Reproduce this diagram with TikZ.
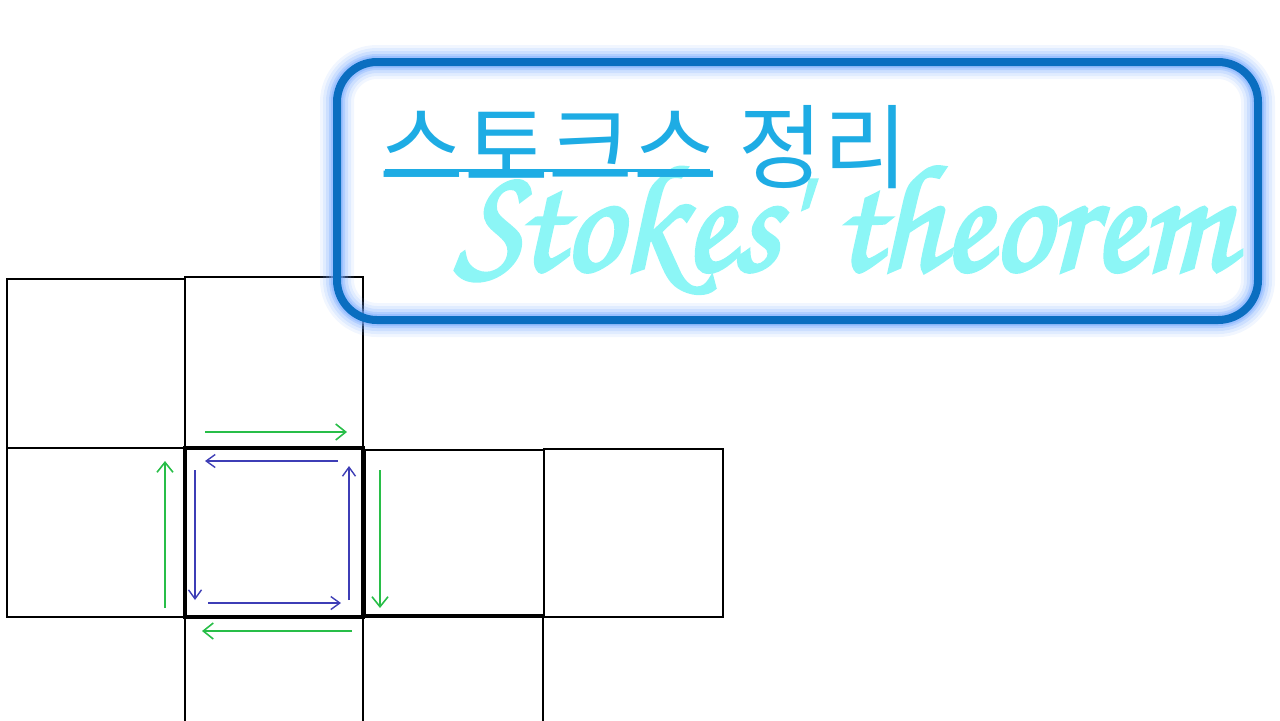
\documentclass[tikz,border=0pt]{standalone}
\usepackage{fontspec}
\newfontfamily\hangulfont{Noto Sans CJK KR}
\newfontfamily\chorusfont{TeX Gyre Chorus}[FakeBold=2.5]
\usetikzlibrary{arrows.meta}

\definecolor{boxblue}{RGB}{10,110,192}
\definecolor{glowblue}{RGB}{120,170,255}
\definecolor{titleblue}{RGB}{30,172,228}
\definecolor{scriptcyan}{RGB}{140,246,246}
\definecolor{arrowgreen}{RGB}{40,190,72}
\definecolor{arrowblue}{RGB}{62,62,182}

\tikzset{
  cell/.style={line width=0.75pt},
  midcell/.style={line width=1.7pt},
  outflow/.style={arrowgreen,line width=0.8pt,-{Straight Barb[length=5pt,width=8pt]}},
  inflow/.style={arrowblue,line width=0.7pt,-{Straight Barb[length=4.5pt,width=6.5pt]}}
}

\begin{document}
\begin{tikzpicture}[x=0.5pt,y=-0.5pt]
  \useasboundingbox (0,0) rectangle (1280,720);

  %%%%%%%%%%%%%%%%%%%%%%%%%%%%%%%%%%%%%%%%%%%%%%%%%%%%%%%%%%%%%%%%%%%%%%%%%%%
  %%%%  Grid
  \draw[cell] (7,279) rectangle (185,448);
  \draw[cell] (185,277) rectangle (363,448);
  \draw[cell] (7,448) rectangle (185,617);
  \draw[cell,line width=1.1pt] (365,450) rectangle (544,615);
  \draw[cell] (544,449) rectangle (723,617);
  % bottom row runs off the page
  \draw[cell] (185,722) -- (185,617) -- (363,617) -- (363,722);
  \draw[cell] (363,617) -- (543,617) -- (543,722);

  \draw[midcell] (185,448) rectangle (363,617);

  %%%%%%%%%%%%%%%%%%%%%%%%%%%%%%%%%%%%%%%%%%%%%%%%%%%%%%%%%%%%%%%%%%%%%%%%%%%
  %%%%  Green: around the neighbours
  \draw[outflow] (205,432) -- (347,432);
  \draw[outflow] (380,470) -- (380,608);
  \draw[outflow] (352,631) -- (202,631);
  \draw[outflow] (165,608) -- (165,461);

  %%%%%%%%%%%%%%%%%%%%%%%%%%%%%%%%%%%%%%%%%%%%%%%%%%%%%%%%%%%%%%%%%%%%%%%%%%%
  %%%%  Blue: inside the middle cell
  \draw[inflow] (338,461) -- (205,461);
  \draw[inflow] (195,470) -- (195,600);
  \draw[inflow] (208,603) -- (341,603);
  \draw[inflow] (349,600) -- (349,466);

  %%%%%%%%%%%%%%%%%%%%%%%%%%%%%%%%%%%%%%%%%%%%%%%%%%%%%%%%%%%%%%%%%%%%%%%%%%%
  %%%%  Title box
  \foreach \w/\o in {34/0.10,28/0.14,22/0.2,16/0.3,12/0.4}
   {\draw[glowblue,line width=\w*0.5pt,opacity=\o,rounded corners=20pt]
      (337,62) rectangle (1258,320);};
  \draw[boxblue,line width=4pt,rounded corners=20pt] (337,62) rectangle (1258,320);

  \node[anchor=base west,inner sep=0pt,text=scriptcyan,xscale=0.95,font=\chorusfont\fontsize{76pt}{80pt}\selectfont]
    (stokes) at (455,270) {Stokes' theorem};

  \node[anchor=base west,inner sep=0pt,text=titleblue,font=\hangulfont\fontsize{46pt}{52pt}\selectfont]
    (title) at (379,181) {스토크스 정리};
  \fill[titleblue] (385,168.5) rectangle (710,171.5);
\end{tikzpicture}
\end{document}
